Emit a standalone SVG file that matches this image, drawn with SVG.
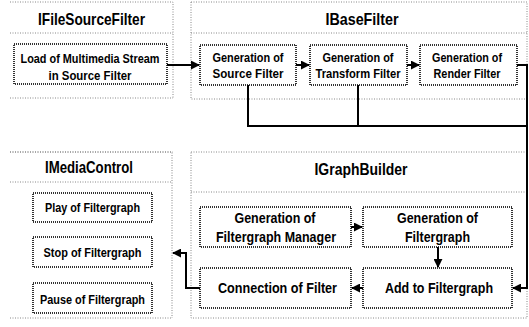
<svg xmlns="http://www.w3.org/2000/svg" width="529" height="327" viewBox="0 0 529 327">
<style>
.panel{fill:none;stroke:#888;stroke-width:1;stroke-dasharray:1 1.5}
.box{fill:#fff;stroke:#333;stroke-width:2;stroke-dasharray:1 1}
.t{font-family:"Liberation Sans Narrow","Arial Narrow","Liberation Sans",Arial,sans-serif;font-weight:bold;fill:#000;text-anchor:middle}
.title{font-size:17px}
.bt{font-size:13.5px}
.big{font-size:15px}
.conn{fill:none;stroke:#000;stroke-width:2}
</style>
<defs>
<marker id="ah" viewBox="0 0 10 10" refX="9" refY="5" markerWidth="4.5" markerHeight="4.5" orient="auto" markerUnits="strokeWidth">
<path d="M0,0 L10,5 L0,10 z" fill="#000"/>
</marker>
</defs>
<rect width="529" height="327" fill="#fff"/>

<g id="panel-IFileSourceFilter">
<path class="panel" d="M10,2 H173 V98 M10,33 H173 M10,98 H173 M10,152 H173"/>
<text class="t title" x="91.5" y="25" textLength="107" lengthAdjust="spacingAndGlyphs">IFileSourceFilter</text>
</g>
<g id="panel-IBaseFilter">
<path class="panel" d="M191,2 H527 V99 H191 Z M191,33 H527"/>
<text class="t title" x="362" y="25" textLength="73" lengthAdjust="spacingAndGlyphs">IBaseFilter</text>
</g>
<g id="panel-IMediaControl">
<path class="panel" d="M10,152 H172 V318 M10,182 H172 M10,318 H172"/>
<text class="t title" x="89" y="173" textLength="88" lengthAdjust="spacingAndGlyphs">IMediaControl</text>
</g>
<g id="panel-IGraphBuilder">
<path class="panel" d="M191,152 H527 V318 H191 Z M191,192 H527"/>
<text class="t title" x="361" y="175" textLength="93" lengthAdjust="spacingAndGlyphs">IGraphBuilder</text>
</g>

<g id="node-load">
<rect class="box" x="14" y="44" width="153" height="40"/>
<text class="t bt" x="90" y="63" textLength="139" lengthAdjust="spacingAndGlyphs">Load of Multimedia Stream</text>
<text class="t bt" x="90" y="80" textLength="83" lengthAdjust="spacingAndGlyphs">in Source Filter</text>
</g>
<g id="node-source">
<rect class="box" x="200" y="45" width="96" height="40"/>
<text class="t bt" x="248" y="62" textLength="71" lengthAdjust="spacingAndGlyphs">Generation of</text>
<text class="t bt" x="248" y="78" textLength="71" lengthAdjust="spacingAndGlyphs">Source Filter</text>
</g>
<g id="node-transform">
<rect class="box" x="310" y="45" width="97" height="40"/>
<text class="t bt" x="358" y="62" textLength="71" lengthAdjust="spacingAndGlyphs">Generation of</text>
<text class="t bt" x="358" y="78" textLength="85" lengthAdjust="spacingAndGlyphs">Transform Filter</text>
</g>
<g id="node-render">
<rect class="box" x="420" y="45" width="97" height="40"/>
<text class="t bt" x="467" y="62" textLength="70" lengthAdjust="spacingAndGlyphs">Generation of</text>
<text class="t bt" x="467" y="78" textLength="67" lengthAdjust="spacingAndGlyphs">Render Filter</text>
</g>

<g id="node-play">
<rect class="box" x="33" y="193" width="119" height="29"/>
<text class="t bt" x="92.5" y="212" textLength="95" lengthAdjust="spacingAndGlyphs">Play of Filtergraph</text>
</g>
<g id="node-stop">
<rect class="box" x="33" y="237" width="119" height="30"/>
<text class="t bt" x="92.5" y="257" textLength="98" lengthAdjust="spacingAndGlyphs">Stop of Filtergraph</text>
</g>
<g id="node-pause">
<rect class="box" x="33" y="283" width="119" height="30"/>
<text class="t bt" x="92.5" y="304" textLength="105" lengthAdjust="spacingAndGlyphs">Pause of Filtergraph</text>
</g>

<g id="node-manager">
<rect class="box" x="200" y="207" width="151" height="40"/>
<text class="t big" x="275" y="223" textLength="81" lengthAdjust="spacingAndGlyphs">Generation of</text>
<text class="t big" x="276" y="242" textLength="120" lengthAdjust="spacingAndGlyphs">Filtergraph Manager</text>
</g>
<g id="node-filtergraph">
<rect class="box" x="363" y="207" width="149" height="40"/>
<text class="t big" x="437.5" y="223" textLength="81" lengthAdjust="spacingAndGlyphs">Generation of</text>
<text class="t big" x="437.5" y="242" textLength="65" lengthAdjust="spacingAndGlyphs">Filtergraph</text>
</g>
<g id="node-connection">
<rect class="box" x="200" y="268" width="151" height="40"/>
<text class="t big" x="277.5" y="293" textLength="119" lengthAdjust="spacingAndGlyphs">Connection of Filter</text>
</g>
<g id="node-add">
<rect class="box" x="363" y="268" width="149" height="40"/>
<text class="t big" x="439" y="293" textLength="108" lengthAdjust="spacingAndGlyphs">Add to Filtergraph</text>
</g>

<g id="connectors">
<path class="conn" d="M167,65 H199" marker-end="url(#ah)"/>
<path class="conn" d="M296,65 H309" marker-end="url(#ah)"/>
<path class="conn" d="M407,65 H419" marker-end="url(#ah)"/>
<path class="conn" d="M517,65 H527 V288 H513" marker-end="url(#ah)"/>
<path class="conn" d="M248,85 V126 H527"/>
<path class="conn" d="M358,85 V126"/>
<path class="conn" d="M351,227 H362" marker-end="url(#ah)"/>
<path class="conn" d="M438,247 V267" marker-end="url(#ah)"/>
<path class="conn" d="M363,288 H352" marker-end="url(#ah)"/>
<path class="conn" d="M200,288 H186 V253 H173" marker-end="url(#ah)"/>
</g>
</svg>
